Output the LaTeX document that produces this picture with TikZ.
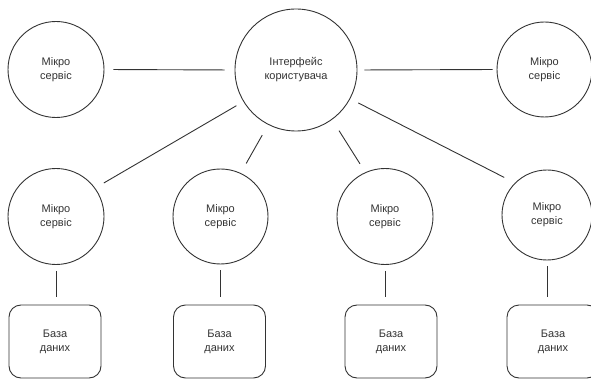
\documentclass[tikz,border=0pt]{standalone}
\usepackage{fontspec}
\setmainfont{Liberation Sans}
\usetikzlibrary{shapes}

\begin{document}
\begin{tikzpicture}[x=1pt,y=-1pt,
    svc/.style={circle, draw=black!80, line width=0.9pt, text=black!80, align=center,
      inner sep=0pt, font=\fontsize{11}{14}\selectfont},
    store/.style={rectangle, rounded corners=12pt, draw=black!80, line width=0.9pt,
      minimum width=92pt, minimum height=73pt, text=black!80, align=center,
      font=\fontsize{11}{14}\selectfont},
    link/.style={draw=black!80, line width=0.9pt, shorten <=9pt, shorten >=10pt}]
  \useasboundingbox (0,0) rectangle (591,379);
  % top row
  \node[name=ui, svc, minimum size=122pt] at (296,70) {Інтерфейс\\користувача};
  \node[name=ml, svc, minimum size=96pt] at (56,69.5) {Мікро\\сервіс};
  \node[name=mr, svc, minimum size=95pt] at (544.5,69.5) {Мікро\\сервіс};
  % bottom row
  \node[name=s1, svc, minimum size=96pt] at (56,216.5) {Мікро\\сервіс};
  \node[name=s2, svc, minimum size=95pt] at (220.5,216.5) {Мікро\\сервіс};
  \node[name=s3, svc, minimum size=96pt] at (385,216.5) {Мікро\\сервіс};
  \node[name=s4, svc, minimum size=90pt] at (547,215) {Мікро\\сервіс};
  % databases
  \node[name=d1, store] at (55,341.5) {База\\даних};
  \node[name=d2, store] at (219.5,341.5) {База\\даних};
  \node[name=d3, store] at (391,341.5) {База\\даних};
  \node[name=d4, store] at (553,341.5) {База\\даних};
  % links
  \draw[link] (ml.east) -- (ui.west);
  \draw[link, shorten <=7pt, shorten >=4pt] (ui.east) -- (mr.west);
  \draw[link, shorten <=8pt] (ui.-149) -- (s1.36);
  \draw[link, shorten <=12pt, shorten >=11pt] (ui.-117.6) -- (s2.65);
  \draw[link, shorten <=13pt] (ui.-54.4) -- (s3.114.4);
  \draw[link, shorten >=12pt] (ui.-28.7) -- (s4.135.7);
  \foreach \i in {1,...,4}
    \draw[link, shorten <=6pt, shorten >=8pt] (s\i.south) -- (s\i.south |- d\i.north);
\end{tikzpicture}
\end{document}
